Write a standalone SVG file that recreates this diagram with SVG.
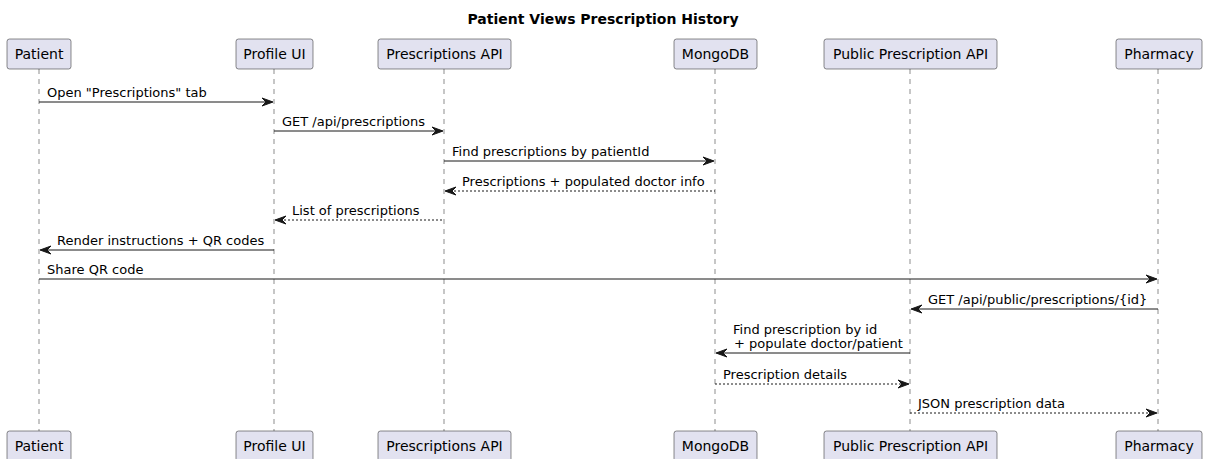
<svg xmlns="http://www.w3.org/2000/svg" width="1212" height="459" viewBox="0 0 1212 459">
  <defs>
    <style>
      .title { font-family: "DejaVu Sans", sans-serif; font-size: 14px; font-weight: bold; fill: #000000; }
      .pbox { fill: #E2E2F0; stroke: #181818; stroke-width: 0.5; }
      .pname { font-family: "DejaVu Sans", sans-serif; font-size: 14px; fill: #000000; text-anchor: middle; }
      .life { stroke: #181818; stroke-width: 0.5; stroke-dasharray: 5,5; fill: none; }
      .msg { stroke: #181818; stroke-width: 1; fill: none; }
      .ret { stroke: #181818; stroke-width: 1; stroke-dasharray: 2,2; fill: none; }
      .head { fill: #181818; stroke: #181818; stroke-width: 1; }
      .label { font-family: "DejaVu Sans", sans-serif; font-size: 13px; fill: #000000; }
    </style>
  </defs>

  <rect width="1212" height="459" fill="#FFFFFF"/>

  <text class="title" x="603" y="24" text-anchor="middle">Patient Views Prescription History</text>

  <!-- lifelines -->
  <g id="lifelines">
    <line class="life" x1="39" y1="69" x2="39" y2="431"/>
    <line class="life" x1="274" y1="69" x2="274" y2="431"/>
    <line class="life" x1="444" y1="69" x2="444" y2="431"/>
    <line class="life" x1="715" y1="69" x2="715" y2="431"/>
    <line class="life" x1="910" y1="69" x2="910" y2="431"/>
    <line class="life" x1="1158" y1="69" x2="1158" y2="431"/>
  </g>

  <!-- participants (head and foot boxes) -->
  <g id="patient">
    <rect class="pbox" x="7" y="39" width="64" height="30" rx="2.5"/>
    <text class="pname" x="39" y="59">Patient</text>
    <rect class="pbox" x="7" y="431" width="64" height="30" rx="2.5"/>
    <text class="pname" x="39" y="451">Patient</text>
  </g>
  <g id="profile-ui">
    <rect class="pbox" x="236" y="39" width="77" height="30" rx="2.5"/>
    <text class="pname" x="274.5" y="59">Profile UI</text>
    <rect class="pbox" x="236" y="431" width="77" height="30" rx="2.5"/>
    <text class="pname" x="274.5" y="451">Profile UI</text>
  </g>
  <g id="prescriptions-api">
    <rect class="pbox" x="378" y="39" width="133" height="30" rx="2.5"/>
    <text class="pname" x="444.5" y="59">Prescriptions API</text>
    <rect class="pbox" x="378" y="431" width="133" height="30" rx="2.5"/>
    <text class="pname" x="444.5" y="451">Prescriptions API</text>
  </g>
  <g id="mongodb">
    <rect class="pbox" x="674" y="39" width="83" height="30" rx="2.5"/>
    <text class="pname" x="715.5" y="59">MongoDB</text>
    <rect class="pbox" x="674" y="431" width="83" height="30" rx="2.5"/>
    <text class="pname" x="715.5" y="451">MongoDB</text>
  </g>
  <g id="public-prescription-api">
    <rect class="pbox" x="824" y="39" width="173" height="30" rx="2.5"/>
    <text class="pname" x="910.5" y="59">Public Prescription API</text>
    <rect class="pbox" x="824" y="431" width="173" height="30" rx="2.5"/>
    <text class="pname" x="910.5" y="451">Public Prescription API</text>
  </g>
  <g id="pharmacy">
    <rect class="pbox" x="1116" y="39" width="86" height="30" rx="2.5"/>
    <text class="pname" x="1159" y="59">Pharmacy</text>
    <rect class="pbox" x="1116" y="431" width="86" height="30" rx="2.5"/>
    <text class="pname" x="1159" y="451">Pharmacy</text>
  </g>

  <!-- messages -->
  <g id="connectors">
    <!-- Patient -> Profile UI -->
    <line class="msg" x1="39" y1="102" x2="272" y2="102"/>
    <polygon class="head" points="262,98 273,102 262,106 266,102"/>
    <text class="label" x="47" y="97">Open "Prescriptions" tab</text>

    <!-- Profile UI -> Prescriptions API -->
    <line class="msg" x1="274" y1="131" x2="442" y2="131"/>
    <polygon class="head" points="432,127 443,131 432,135 436,131"/>
    <text class="label" x="282" y="126">GET /api/prescriptions</text>

    <!-- Prescriptions API -> MongoDB -->
    <line class="msg" x1="444" y1="161" x2="713" y2="161"/>
    <polygon class="head" points="703,157 714,161 703,165 707,161"/>
    <text class="label" x="452" y="156">Find prescriptions by patientId</text>

    <!-- MongoDB -> Prescriptions API (return) -->
    <line class="ret" x1="446" y1="191" x2="715" y2="191"/>
    <polygon class="head" points="456,187 445,191 456,195 452,191"/>
    <text class="label" x="462" y="186">Prescriptions + populated doctor info</text>

    <!-- Prescriptions API -> Profile UI (return) -->
    <line class="ret" x1="276" y1="220" x2="444" y2="220"/>
    <polygon class="head" points="286,216 275,220 286,224 282,220"/>
    <text class="label" x="292" y="215">List of prescriptions</text>

    <!-- Profile UI -> Patient -->
    <line class="msg" x1="41" y1="250" x2="274" y2="250"/>
    <polygon class="head" points="51,246 40,250 51,254 47,250"/>
    <text class="label" x="57" y="245">Render instructions + QR codes</text>

    <!-- Patient -> Pharmacy -->
    <line class="msg" x1="39" y1="279" x2="1156" y2="279"/>
    <polygon class="head" points="1146,275 1157,279 1146,283 1150,279"/>
    <text class="label" x="47" y="274">Share QR code</text>

    <!-- Pharmacy -> Public Prescription API -->
    <line class="msg" x1="912" y1="309" x2="1158" y2="309"/>
    <polygon class="head" points="922,305 911,309 922,313 918,309"/>
    <text class="label" x="928" y="304">GET /api/public/prescriptions/{id}</text>

    <!-- Public Prescription API -> MongoDB -->
    <line class="msg" x1="717" y1="353" x2="910" y2="353"/>
    <polygon class="head" points="727,349 716,353 727,357 723,353"/>
    <text class="label" x="733" y="334">Find prescription by id</text>
    <text class="label" x="734" y="348">+ populate doctor/patient</text>

    <!-- MongoDB -> Public Prescription API (return) -->
    <line class="ret" x1="715" y1="384" x2="908" y2="384"/>
    <polygon class="head" points="898,380 909,384 898,388 902,384"/>
    <text class="label" x="723" y="379">Prescription details</text>

    <!-- Public Prescription API -> Pharmacy (return) -->
    <line class="ret" x1="910" y1="413" x2="1156" y2="413"/>
    <polygon class="head" points="1146,409 1157,413 1146,417 1150,413"/>
    <text class="label" x="918" y="408">JSON prescription data</text>
  </g>
</svg>
